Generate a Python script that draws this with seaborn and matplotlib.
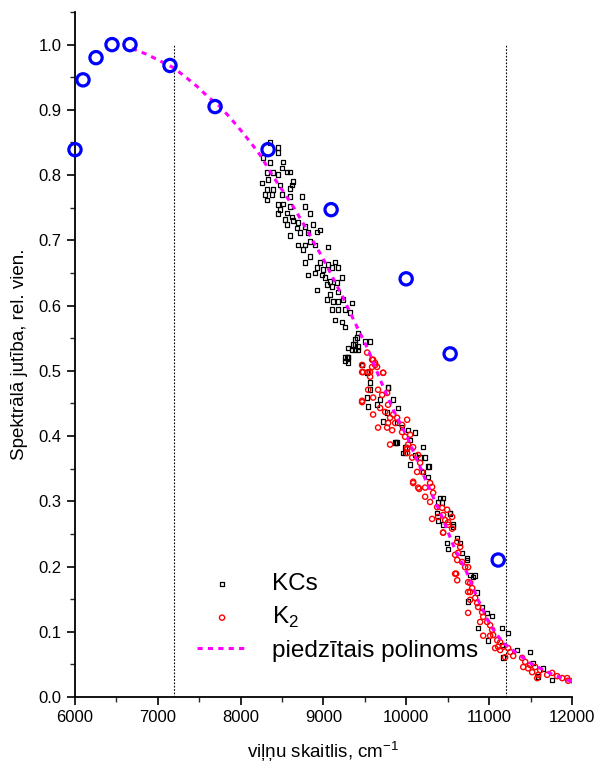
import numpy as np
import pandas as pd
import matplotlib
matplotlib.use("Agg")
import matplotlib.pyplot as plt
from matplotlib.ticker import MultipleLocator, AutoMinorLocator
import seaborn as sns

# blue reference points (open circles)
ref_x = [6000, 6097, 6254, 6447, 6664, 7147, 7691, 8331, 9092, 9998, 10529, 11109]
ref_y = [0.839, 0.946, 0.980, 1.000, 1.000, 0.968, 0.905, 0.839, 0.747, 0.641, 0.526, 0.210]

# fitted polynomial
poly_x = [6688, 6870, 7027, 7184, 7329, 7473, 7606, 7751, 7872, 7993, 8114, 8234, 8391,
          8512, 8633, 8802, 8899, 8983, 9237, 9406, 9541, 9686, 9843, 10010, 10143,
          10287, 10432, 10565, 10734, 10867, 11012, 11169, 11338, 11495, 11773, 12014]
poly_y = [0.994, 0.985, 0.975, 0.965, 0.951, 0.936, 0.920, 0.905, 0.888, 0.870, 0.851,
          0.831, 0.798, 0.775, 0.752, 0.716, 0.693, 0.675, 0.612, 0.567, 0.532, 0.486,
          0.440, 0.399, 0.359, 0.317, 0.276, 0.233, 0.190, 0.149, 0.110, 0.083, 0.067,
          0.052, 0.034, 0.023]

# KCs (black squares)
kcs_x = [8355, 8452, 8452, 8270, 8355, 8512, 8500, 8560, 8597, 8319, 8391, 8452, 8633,
         8331, 8258, 8476, 8621, 8319, 8391, 8597, 8295, 8379, 8500, 8597, 8319, 8742,
         8452, 8512, 8597, 8778, 8476, 8560, 8452, 8838, 8621, 8536, 8633, 8560, 8693,
         8778, 8681, 8874, 8717, 8814, 8923, 8959, 8597,
         8693, 8778, 8754, 8838, 8899, 9056, 8838, 8778, 8959, 9056, 9140, 8923, 8995,
         9104, 9176, 8814, 8899, 8983, 9019, 9080, 9164, 9225, 9043, 8923, 9104, 9176,
         9080, 9043, 9116, 9237, 9176, 9345, 9261, 9104, 9176, 9321, 9140, 9225, 9261,
         9418, 9406, 9502, 9563, 9357, 9418, 9297,
         9345, 9382, 9297, 9261, 9418, 9297, 9261, 9297, 9382, 9382, 9466, 9527, 9563,
         9563, 9527, 9780, 9684, 9841, 9647, 9539, 9901, 9768, 9720, 9889, 9949, 10106,
         10022, 9889, 10046, 10203, 9985, 9285, 9466, 9780, 9865, 9961, 10263, 10046,
         10167, 10408, 10384, 10529, 10565, 10493, 10505, 10614, 10650, 10734, 10807,
         10855, 9877, 9985, 10106, 10227, 10275, 10203, 10263, 10444, 10432, 10372,
         10529, 10384, 10444, 10565, 10674, 10734, 10771, 10831, 10746, 10915, 10976,
         11036, 10867, 11157, 11229, 10988, 11157, 11169, 11338, 11495, 11531, 11652,
         11592, 11761]
kcs_y = [0.850, 0.842, 0.835, 0.827, 0.819, 0.820, 0.811, 0.805, 0.805, 0.804, 0.804,
         0.801, 0.790, 0.793, 0.788, 0.785, 0.785, 0.778, 0.778, 0.779, 0.770, 0.770,
         0.770, 0.767, 0.762, 0.767, 0.755, 0.756, 0.752, 0.752, 0.747, 0.742, 0.741,
         0.741, 0.736, 0.732, 0.730, 0.724, 0.727, 0.721, 0.719, 0.724, 0.712, 0.712,
         0.713, 0.716, 0.707,
         0.693, 0.693, 0.686, 0.698, 0.693, 0.690, 0.675, 0.666, 0.666, 0.663, 0.667,
         0.658, 0.655, 0.658, 0.658, 0.647, 0.650, 0.647, 0.643, 0.637, 0.635, 0.643,
         0.632, 0.624, 0.629, 0.621, 0.617, 0.609, 0.606, 0.609, 0.606, 0.604, 0.594,
         0.594, 0.594, 0.589, 0.578, 0.575, 0.567, 0.558, 0.551, 0.545, 0.545, 0.540,
         0.537, 0.535,
         0.532, 0.548, 0.520, 0.515, 0.532, 0.520, 0.520, 0.512, 0.532, 0.540, 0.509,
         0.497, 0.482, 0.471, 0.459, 0.474, 0.456, 0.456, 0.448, 0.445, 0.443, 0.436,
         0.422, 0.420, 0.414, 0.405, 0.409, 0.390, 0.394, 0.383, 0.382, 0.521, 0.509,
         0.474, 0.390, 0.374, 0.353, 0.356, 0.367, 0.305, 0.298, 0.282, 0.264, 0.236,
         0.227, 0.244, 0.236, 0.210, 0.184, 0.160, 0.390, 0.374, 0.371, 0.367, 0.353,
         0.345, 0.337, 0.305, 0.298, 0.282, 0.281, 0.271, 0.264, 0.261, 0.221, 0.213,
         0.187, 0.186, 0.146, 0.137, 0.129, 0.124, 0.106, 0.106, 0.098, 0.087, 0.080,
         0.061, 0.072, 0.069, 0.052, 0.044, 0.031, 0.026]

# K2 (red circles)
k2_x = [9527, 9587, 9623, 9647, 9587, 9478, 9539, 9720, 9563, 9659, 9539, 9708, 9768,
        9466, 9599, 9684, 9780, 9744, 9599, 9841, 9804, 9889, 9780, 9865, 10010, 9949,
        9659, 9768, 9829, 9949, 9985, 10046, 9804, 10022, 10082, 10010,
        9623, 9720, 9563, 9466, 9466, 10082, 10143, 10227, 10311, 10324, 10227, 10287,
        10372, 10384, 10311, 10469, 10444, 10505, 10614, 10602, 10614, 10746, 10746,
        10771, 10010, 10010, 10143, 10070, 10167, 10130, 10191, 10082, 10287, 10155,
        10432, 10493, 10553, 10444, 10505, 10553, 10444, 10614, 10650, 10626, 10589,
        10674, 10710, 10589, 10771, 10795, 10746, 10831, 10771, 10855, 10867, 10746,
        10915, 10928, 10891, 10976, 11012, 11036, 10928, 11012, 11048, 11097, 11133,
        11072, 11109, 11169, 11229, 11133, 11254, 11290, 11193, 11398, 11435, 11495,
        11411, 11471, 11556, 11616, 11519, 11592, 11700, 11761, 11821, 11882, 11942,
        12014, 11954, 11580, 9599, 9466]
k2_y = [0.528, 0.517, 0.512, 0.506, 0.506, 0.498, 0.498, 0.497, 0.491, 0.471, 0.471,
        0.463, 0.466, 0.452, 0.459, 0.443, 0.448, 0.437, 0.433, 0.433, 0.428, 0.428,
        0.420, 0.420, 0.425, 0.417, 0.413, 0.413, 0.409, 0.406, 0.399, 0.402, 0.387,
        0.387, 0.383, 0.382,
        0.509, 0.497, 0.498, 0.498, 0.454, 0.330, 0.321, 0.321, 0.322, 0.313, 0.307,
        0.299, 0.291, 0.276, 0.273, 0.271, 0.252, 0.264, 0.210, 0.189, 0.179, 0.199,
        0.176, 0.161, 0.380, 0.374, 0.371, 0.367, 0.359, 0.345, 0.345, 0.328, 0.328,
        0.319, 0.290, 0.287, 0.276, 0.279, 0.268, 0.258, 0.252, 0.238, 0.230, 0.221,
        0.218, 0.207, 0.199, 0.189, 0.175, 0.167, 0.161, 0.152, 0.149, 0.144, 0.138,
        0.129, 0.130, 0.123, 0.115, 0.115, 0.110, 0.103, 0.094, 0.094, 0.095, 0.087,
        0.084, 0.075, 0.077, 0.077, 0.075, 0.072, 0.069, 0.063, 0.061, 0.060, 0.054,
        0.049, 0.046, 0.044, 0.046, 0.041, 0.038, 0.034, 0.034, 0.037, 0.032, 0.029,
        0.029, 0.025, 0.025, 0.029, 0.517, 0.509]

kcs_df = pd.DataFrame({"x": kcs_x, "y": kcs_y})
k2_df = pd.DataFrame({"x": k2_x, "y": k2_y})
poly_df = pd.DataFrame({"x": poly_x, "y": poly_y})
ref_df = pd.DataFrame({"x": ref_x, "y": ref_y})

sns.set_style("ticks")
plt.rcParams["font.family"] = ["Liberation Sans", "DejaVu Sans"]
plt.rcParams["mathtext.fontset"] = "custom"
plt.rcParams["mathtext.rm"] = "Liberation Sans"
plt.rcParams["text.color"] = "black"
plt.rcParams["axes.labelcolor"] = "black"

fig = plt.figure(figsize=(5.97, 7.69), dpi=100)
ax = fig.add_axes([0.1256, 0.0936, 0.8325, 0.8908])

ax.vlines([7200, 11200], 0, 1.0, colors="black", linestyles=(0, (1.5, 1.5)), linewidth=0.8, zorder=1)

sns.scatterplot(data=kcs_df, x="x", y="y", ax=ax, marker="s", s=11, facecolor="none",
                edgecolor="black", linewidth=0.9, label="KCs", zorder=2)
sns.scatterplot(data=k2_df, x="x", y="y", ax=ax, marker="o", s=14, facecolor="none",
                edgecolor="red", linewidth=1.0, label="K$_2$", zorder=3)
sns.lineplot(data=poly_df, x="x", y="y", ax=ax, sort=False, color="#ff00ff",
             linewidth=2.2, dashes=False, label="piedzītais polinoms", zorder=4)
ax.lines[-1].set_dashes((1.7, 1.7))
sns.scatterplot(data=ref_df, x="x", y="y", ax=ax, marker="o", s=78, facecolor="none",
                edgecolor="#0000ff", linewidth=2.3, legend=False, zorder=5, clip_on=False)

ax.set_xlim(6000, 12000)
ax.set_ylim(0, 1.05)
ax.xaxis.set_major_locator(MultipleLocator(1000))
ax.xaxis.set_minor_locator(AutoMinorLocator(2))
ax.yaxis.set_major_locator(MultipleLocator(0.1))
ax.yaxis.set_minor_locator(AutoMinorLocator(2))
ax.tick_params(which="major", direction="out", length=6, width=1.2, labelsize=12, colors="black")
ax.tick_params(which="minor", direction="out", length=3.5, width=1.0)
ax.yaxis.set_major_formatter(plt.FuncFormatter(lambda v, p: f"{v:.1f}"))
sns.despine(ax=ax)
for sp in ["left", "bottom"]:
    ax.spines[sp].set_linewidth(1.3)
    ax.spines[sp].set_color("black")

ax.set_xlabel("viļņu skaitlis, cm$^{-1}$", fontsize=13.5, labelpad=10)
ax.set_ylabel("Spektrālā jutība, rel. vien.", fontsize=13.5, labelpad=8)

leg = ax.legend(loc="lower left", bbox_to_anchor=(0.225, 0.037), frameon=False, fontsize=17.5,
                handlelength=2.1, handletextpad=1.0, labelspacing=0.4, borderaxespad=0)
for t in leg.get_texts():
    t.set_color("black")

fig.savefig("out.png", dpi=100)
